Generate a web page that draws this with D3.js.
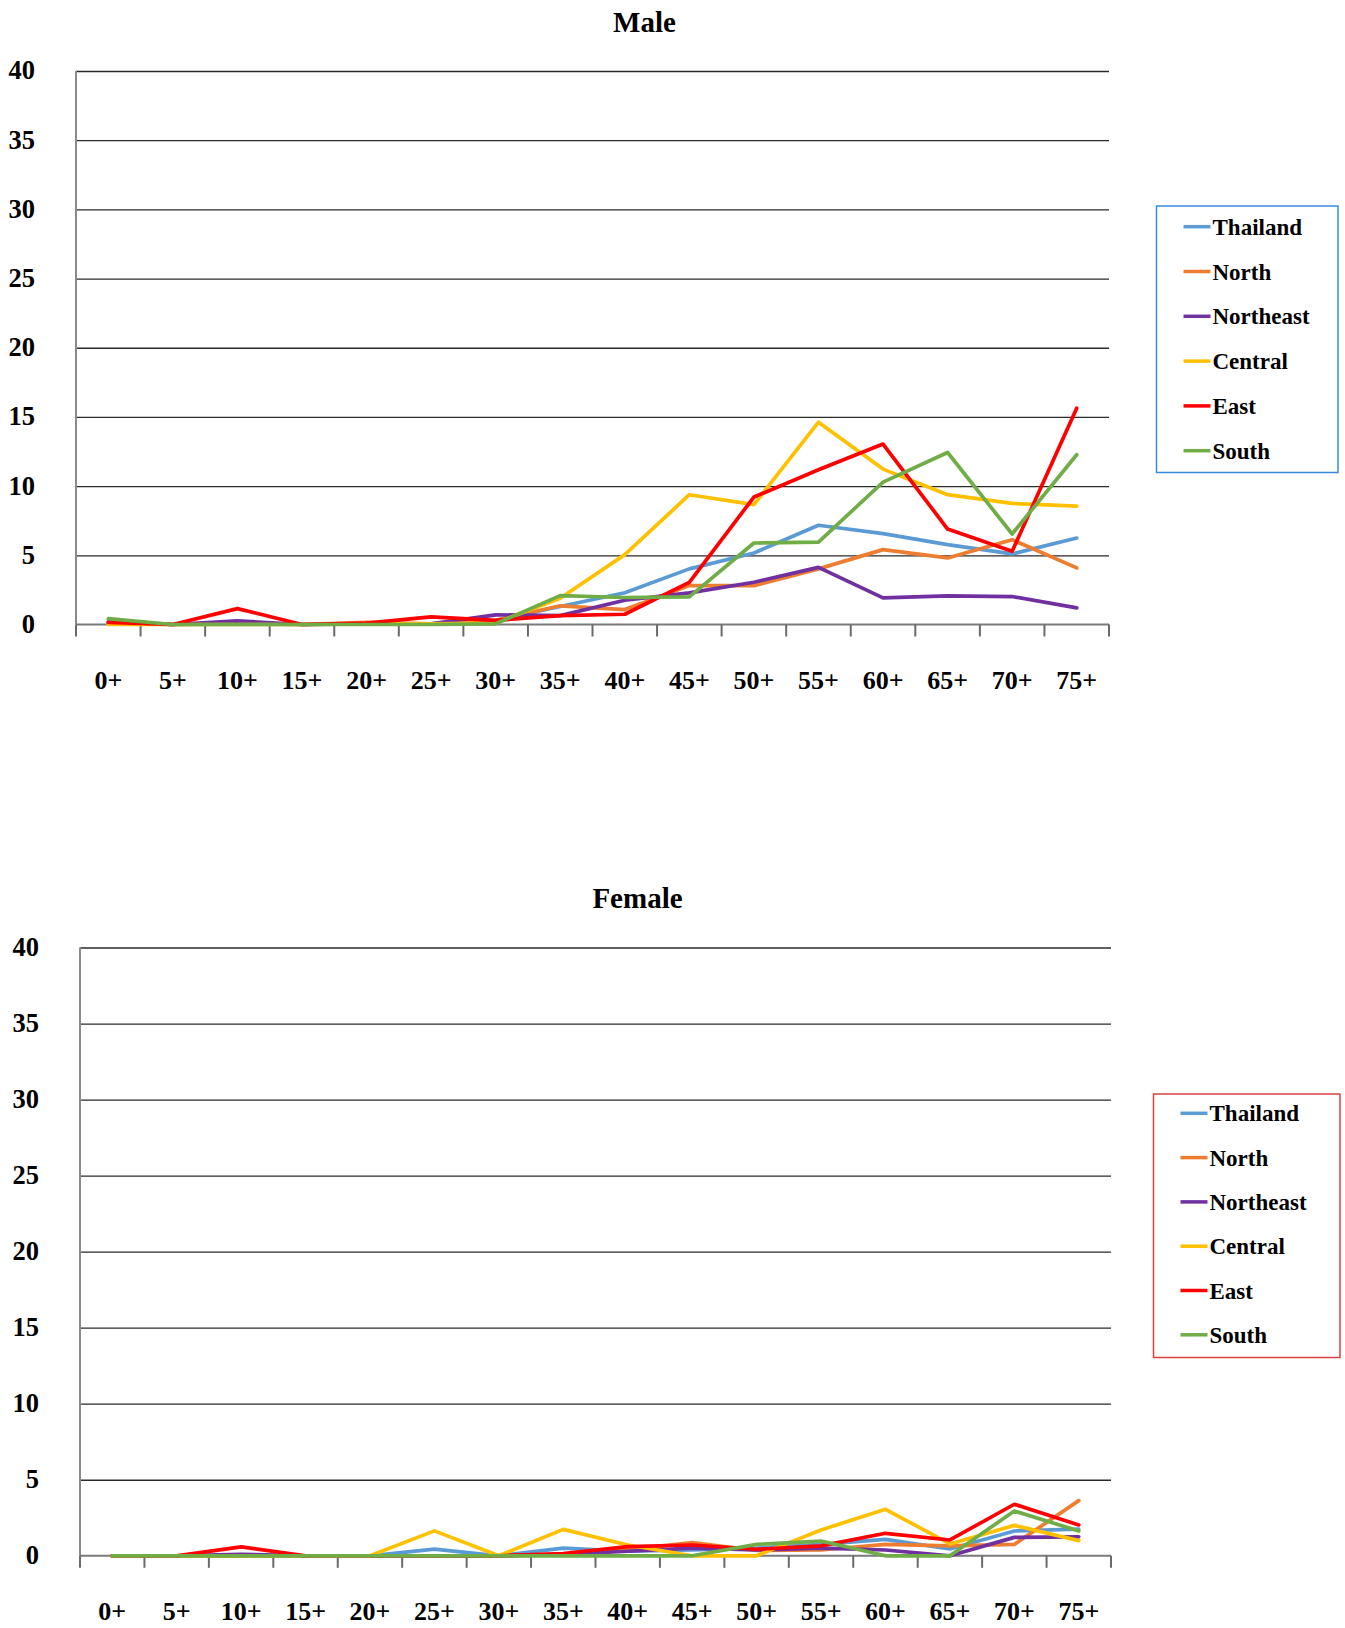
<!DOCTYPE html>
<html>
<head>
<meta charset="utf-8">
<script src="https://cdn.jsdelivr.net/npm/d3@7"></script>
<style>
  html, body { margin: 0; padding: 0; background: #fff; }
  svg { display: block; }
  text { font-family: "Liberation Serif", "Times New Roman", serif; font-weight: bold; fill: #000; }
</style>
</head>
<body>
<svg id="chart" width="1345" height="1628"></svg>
<script>
// ---------- data ----------
const ageGroups = ["0+","5+","10+","15+","20+","25+","30+","35+","40+","45+","50+","55+","60+","65+","70+","75+"];
const seriesNames = ["Thailand","North","Northeast","Central","East","South"];
const seriesColors = ["#5B9BD5","#ED7D31","#7030A0","#FFC000","#FF0000","#70AD47"];
const yTickValues = [0,5,10,15,20,25,30,35,40];

const maleThailand  = [0.1,0,0.05,0,0.05,0.05,0.3,1.3,2.29,4.02,5.17,7.17,6.57,5.77,5.1,6.25];
const maleNorth     = [0.1,0,0.05,0,0.15,0.05,0.3,1.35,1.08,2.81,2.81,4.02,5.41,4.81,6.13,4.09];
const maleNortheast = [0.2,0,0.26,0,0.05,0.05,0.7,0.64,1.75,2.29,3.05,4.13,1.92,2.07,2.02,1.2];
const maleCentral   = [0,0,0,0,0.05,0.05,0.1,1.9,5.05,9.38,8.66,14.62,11.23,9.38,8.75,8.56];
const maleEast      = [0.15,0,1.15,0,0.1,0.55,0.3,0.64,0.74,3.05,9.21,11.18,13.04,6.9,5.29,15.63];
const maleSouth     = [0.43,0,0,0,0,0,0.05,2.09,1.95,2.0,5.89,5.96,10.29,12.43,6.54,12.27];

const femaleThailand  = [0,0,0.05,0,0,0.44,0,0.5,0.3,0.38,0.5,0.75,1.08,0.45,1.63,1.76];
const femaleNorth     = [0,0,0,0,0,0,0,0.1,0.4,0.87,0.35,0.38,0.75,0.65,0.75,3.63];
const femaleNortheast = [0,0,0.1,0,0,0,0,0.1,0.3,0.5,0.38,0.5,0.38,0,1.21,1.25];
const femaleCentral   = [0,0,0,0,0,1.64,0,1.74,0.71,0,0,1.7,3.06,0.78,2.0,1.0];
const femaleEast      = [0,0,0.59,0,0,0,0,0.15,0.6,0.71,0.43,0.65,1.48,1.04,3.39,2.03];
const femaleSouth     = [0,0,0,0,0,0,0,0,0,0,0.75,0.97,0,0,2.95,1.63];

const maleSeries = [maleThailand, maleNorth, maleNortheast, maleCentral, maleEast, maleSouth];
const femaleSeries = [femaleThailand, femaleNorth, femaleNortheast, femaleCentral, femaleEast, femaleSouth];

// ---------- drawing ----------
const svg = d3.select("#chart");

function drawPanel(cfg) {
  const g = svg.append("g");
  const x = d3.scaleBand().domain(ageGroups).range([cfg.x0, cfg.x1]).padding(0);
  const y = d3.scaleLinear().domain([0, 40]).range([cfg.yBottom, cfg.yTop]);
  const cx = d => x(d) + x.bandwidth() / 2;

  // title
  g.append("text").attr("x", cfg.titleX).attr("y", cfg.titleY)
    .attr("text-anchor", "middle").style("font-size", "29px").text(cfg.title);

  // gridlines + y labels
  const yAxis = d3.axisLeft(y).tickValues(yTickValues).tickSize(-(cfg.x1 - cfg.x0)).tickPadding(41);
  const ya = g.append("g").attr("transform", `translate(${cfg.x0},0)`).call(yAxis);
  ya.select(".domain").remove();
  ya.selectAll(".tick line").attr("stroke", "#2a2a2a").attr("stroke-width", 1.3)
    .filter(d => d === 0).remove();
  ya.selectAll(".tick text").style("font-size", "26.5px").attr("font-family", null).attr("dy", "0.3em");

  // y axis line
  g.append("line").attr("x1", cfg.x0).attr("x2", cfg.x0).attr("y1", y(40)).attr("y2", y(0))
    .attr("stroke", "#8a8a8a").attr("stroke-width", 2);

  // x axis line + boundary ticks
  g.append("line").attr("x1", cfg.x0).attr("x2", cfg.x1).attr("y1", y(0)).attr("y2", y(0))
    .attr("stroke", "#7a7a7a").attr("stroke-width", 2);
  const bounds = ageGroups.map(d => x(d)).concat([x.range()[1]]);
  g.selectAll(".xtick").data(bounds).enter().append("line")
    .attr("x1", d => d).attr("x2", d => d).attr("y1", y(0)).attr("y2", y(0) + 12)
    .attr("stroke", "#6a6a6a").attr("stroke-width", 2);

  // x labels
  const xAxis = d3.axisBottom(x).tickSize(0).tickPadding(0);
  const xa = g.append("g").attr("transform", `translate(0,${y(0)})`).call(xAxis);
  xa.select(".domain").remove();
  xa.selectAll(".tick text").style("font-size", "26px").attr("font-family", null)
    .attr("y", cfg.labelOffset).attr("dy", 0);

  // lines
  const line = d3.line().x((d, i) => cx(ageGroups[i])).y(d => y(d));
  cfg.series.forEach((vals, k) => {
    g.append("path").datum(vals).attr("d", line).attr("fill", "none")
      .attr("stroke", seriesColors[k]).attr("stroke-width", 3.7)
      .attr("stroke-linejoin", "round").attr("stroke-linecap", "round");
  });

  // legend
  const lg = g.append("g");
  lg.append("rect").attr("x", cfg.legX).attr("y", cfg.legY).attr("width", cfg.legW).attr("height", cfg.legH)
    .attr("fill", "none").attr("stroke", cfg.legStroke).attr("stroke-width", 1.5);
  seriesNames.forEach((name, k) => {
    const ry = cfg.legRow0 + k * cfg.legStep;
    lg.append("line").attr("x1", cfg.legX + 27).attr("x2", cfg.legX + 54).attr("y1", ry).attr("y2", ry)
      .attr("stroke", seriesColors[k]).attr("stroke-width", 3.5);
    lg.append("text").attr("x", cfg.legX + 56).attr("y", ry + 8).style("font-size", "23px").text(name);
  });
}

drawPanel({
  title: "Male", titleX: 644.5, titleY: 32,
  x0: 76, x1: 1109, yTop: 71, yBottom: 624.5, labelOffset: 64.5,
  series: maleSeries,
  legX: 1156.5, legY: 206, legW: 181.5, legH: 266.5, legStroke: "#3b8ad9",
  legRow0: 226.7, legStep: 44.8
});

drawPanel({
  title: "Female", titleX: 637.5, titleY: 908,
  x0: 80, x1: 1111, yTop: 947.5, yBottom: 1555.8, labelOffset: 64.3,
  series: femaleSeries,
  legX: 1153.5, legY: 1094, legW: 186.5, legH: 263.5, legStroke: "#d9403f",
  legRow0: 1113.3, legStep: 44.3
});
</script>
</body>
</html>
